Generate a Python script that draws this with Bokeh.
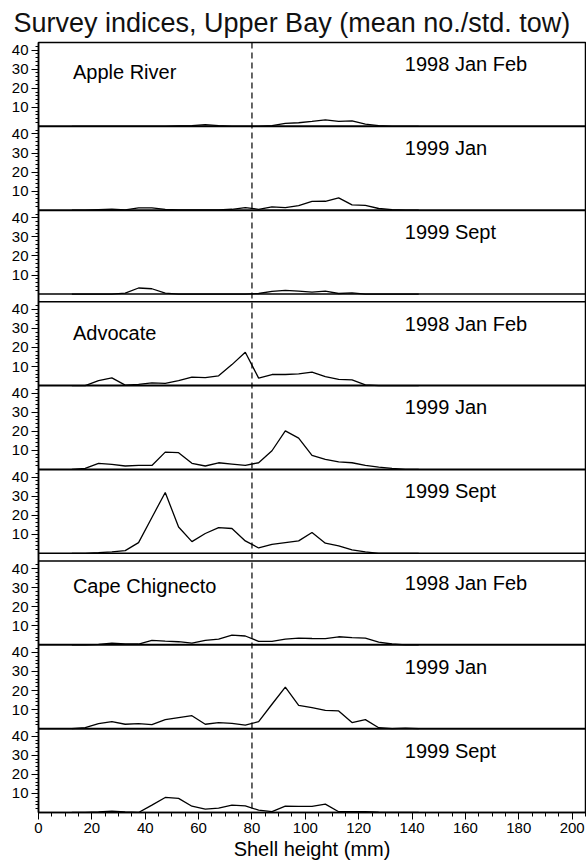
from bokeh.plotting import figure
from bokeh.models import FixedTicker, Span, Range1d, ColumnDataSource, Label
from bokeh.transform import dodge
from bokeh.embed import file_html
from bokeh.resources import INLINE

# ---------------- data ----------------
shell_height = [12.5, 17.5, 22.5, 27.5, 32.5, 37.5, 42.5, 47.5, 52.5, 57.5,
                62.5, 67.5, 72.5, 77.5, 82.5, 87.5, 92.5, 97.5, 102.5, 107.5,
                112.5, 117.5, 122.5, 127.5, 132.5, 137.5, 142.5]

sites = ["Apple River", "Advocate", "Cape Chignecto"]
surveys = ["1998 Jan Feb", "1999 Jan", "1999 Sept"]

apple_1998_janfeb = [0, 0, 0, 0, 0, 0, 0, 0, 0.2, 0.4, 0.9, 0.4, 0, 0, 0, 0.4, 1.6, 1.9, 2.6, 3.4, 2.6, 2.9, 1.2, 0.4, 0, 0, 0]
apple_1999_jan = [0, 0, 0.3, 0.6, 0.2, 1.2, 1.2, 0.4, 0.2, 0.2, 0.2, 0.2, 0.5, 1.4, 0.5, 1.8, 1.4, 2.4, 4.6, 4.7, 6.5, 2.8, 2.5, 0.9, 0.3, 0, 0]
apple_1999_sept = [0, 0, 0, 0, 0.5, 3.2, 2.8, 0.5, 0, 0, 0, 0, 0, 0, 0.3, 1.4, 1.9, 1.6, 1.0, 1.5, 0.3, 0.6, 0, 0, 0, 0, 0]

advocate_1998_janfeb = [0, 0, 2.6, 4.0, 0.2, 0.6, 1.4, 1.2, 2.6, 4.4, 4.2, 5.1, 11.0, 17.5, 3.9, 5.8, 5.8, 6.1, 7.0, 4.7, 3.2, 3.0, 0.4, 0, 0, 0, 0]
advocate_1999_jan = [0, 0.5, 3.2, 2.6, 1.8, 2.1, 2.1, 9.1, 8.8, 3.2, 1.8, 3.5, 2.8, 2.1, 3.5, 9.8, 20.2, 16.4, 7.4, 5.3, 4.0, 3.5, 2.1, 1.2, 0.5, 0, 0]
advocate_1999_sept = [0, 0, 0.3, 0.7, 1.4, 5.6, 18.8, 31.9, 13.8, 6.1, 10.4, 13.5, 13.0, 6.5, 2.8, 4.7, 5.6, 6.5, 10.9, 5.3, 3.9, 1.8, 0.7, 0, 0, 0, 0]

cape_1998_janfeb = [0, 0, 0.2, 0.9, 0.4, 0.4, 2.3, 1.9, 1.6, 0.9, 2.3, 3.0, 5.1, 4.6, 1.8, 1.8, 3.0, 3.5, 3.3, 3.2, 4.2, 3.7, 3.5, 1.4, 0.4, 0, 0]
cape_1999_jan = [0, 0.5, 2.6, 3.7, 2.3, 2.6, 2.1, 4.7, 5.8, 6.8, 2.3, 3.2, 2.8, 1.8, 3.7, 12.8, 21.8, 12.2, 11.0, 9.6, 9.3, 3.2, 4.7, 0.5, 0, 0.3, 0]
cape_1999_sept = [0, 0, 0.3, 0.7, 0.3, 0, 3.9, 7.9, 7.4, 3.3, 1.8, 2.3, 3.9, 3.5, 1.2, 0.5, 3.3, 3.2, 3.2, 4.4, 0.4, 0.5, 0.5, 0.2, 0, 0, 0]

series = [
    [apple_1998_janfeb, apple_1999_jan, apple_1999_sept],
    [advocate_1998_janfeb, advocate_1999_jan, advocate_1999_sept],
    [cape_1998_janfeb, cape_1999_jan, cape_1999_sept],
]

x_ticks = [0, 20, 40, 60, 80, 100, 120, 140, 160, 180, 200]
y_tick_values = [10, 20, 30, 40]
size_limit = 80

# ---------------- layout constants ----------------
PANEL = 44
GAP = 4
GROUP = 3 * PANEL + GAP
TOTAL = 3 * GROUP - GAP
FONT = "Liberation Sans"

p = figure(width=586, height=863, output_backend="svg", toolbar_location=None,
           x_range=Range1d(0, 205), y_range=Range1d(0, TOTAL),
           min_border_left=38, min_border_right=1, min_border_top=42,
           min_border_bottom=51)
p.title.text = "Survey indices, Upper Bay (mean no./std. tow)"
p.title.text_font = FONT
p.title.text_font_size = "27px"
p.title.text_font_style = "normal"
p.title.text_color = "#111111"
p.title.align = "left"
p.title.offset = -25
p.title.standoff = 9
p.xgrid.visible = False
p.ygrid.visible = False
p.outline_line_color = "black"
p.outline_line_width = 1.5
p.background_fill_color = "white"
p.border_fill_color = "white"

# y axis ticks (repeated per panel)
major = []
minor = []
overrides = {}
for g in range(3):
    gbase = (2 - g) * GROUP
    for s in range(3):
        base = gbase + (2 - s) * PANEL
        for v in y_tick_values:
            major.append(base + v)
            overrides[base + v] = str(v)
        for m in range(2, PANEL, 2):
            minor.append(base + m)
p.yaxis.ticker = FixedTicker(ticks=major, minor_ticks=minor)
p.yaxis.major_label_overrides = overrides
p.yaxis.major_label_text_font = FONT
p.yaxis.major_label_text_font_size = "15px"
p.yaxis.major_label_text_color = "black"
p.yaxis.major_tick_out = 7
p.yaxis.major_tick_in = 0
p.yaxis.minor_tick_out = 3
p.yaxis.minor_tick_in = 0
p.yaxis.major_label_standoff = 3
p.yaxis.axis_line_width = 1.5
p.yaxis.axis_line_color = "black"
p.yaxis.major_tick_line_color = "black"
p.yaxis.minor_tick_line_color = "black"

p.xaxis.ticker = FixedTicker(ticks=x_ticks, minor_ticks=list(range(0, 206, 5)))
p.xaxis.major_label_text_font = FONT
p.xaxis.major_label_text_font_size = "15px"
p.xaxis.major_label_text_color = "black"
p.xaxis.major_tick_out = 7
p.xaxis.major_tick_in = 0
p.xaxis.minor_tick_out = 4
p.xaxis.minor_tick_in = 0
p.xaxis.major_label_standoff = 3
p.xaxis.axis_line_width = 1.5
p.xaxis.axis_line_color = "black"
p.xaxis.major_tick_line_color = "black"
p.xaxis.minor_tick_line_color = "black"
p.xaxis.axis_label = "Shell height (mm)"
p.xaxis.axis_label_text_font = FONT
p.xaxis.axis_label_text_font_size = "20px"
p.xaxis.axis_label_text_font_style = "normal"
p.xaxis.axis_label_text_color = "black"
p.xaxis.axis_label_standoff = 2

site_label_drop = [15.7, 16.3, 13.1]

for g in range(3):
    gbase = (2 - g) * GROUP
    # group edges
    for loc in (gbase, gbase + 3 * PANEL):
        if 0 < loc < TOTAL:
            p.add_layout(Span(location=loc, dimension="width", line_color="black", line_width=1.5))
    for s in range(3):
        base = gbase + (2 - s) * PANEL
        if s < 2:
            p.add_layout(Span(location=base, dimension="width", line_color="black", line_width=2))
        src = ColumnDataSource(data=dict(x=shell_height, y=series[g][s]))
        p.line(x="x", y=dodge("y", base), source=src, line_color="black", line_width=1.3)
        p.add_layout(Label(x=137.3, y=base + PANEL - 11.5, text=surveys[s],
                           text_font=FONT, text_font_size="20px",
                           text_baseline="alphabetic", text_color="black"))
    p.add_layout(Label(x=12.9, y=gbase + 3 * PANEL - site_label_drop[g], text=sites[g],
                       text_font=FONT, text_font_size="20px",
                       text_baseline="alphabetic", text_color="black"))

p.add_layout(Span(location=size_limit, dimension="height", line_color="black",
                  line_width=1.2, line_dash="6 4"))

open("out.html", "w").write(file_html(p, INLINE))
